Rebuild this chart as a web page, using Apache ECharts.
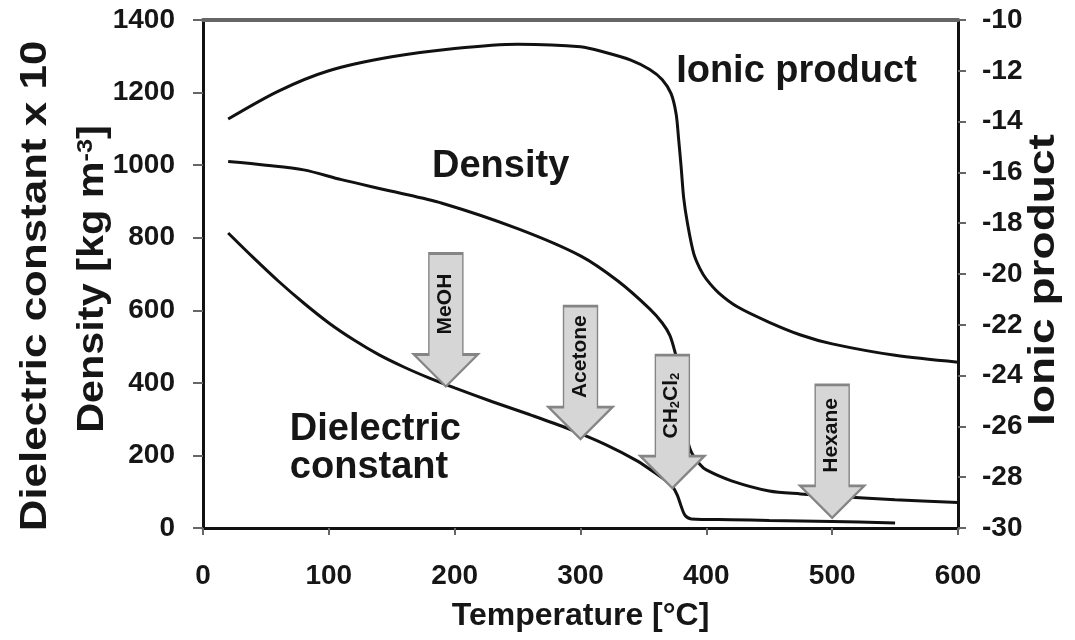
<!DOCTYPE html>
<html>
<head>
<meta charset="utf-8">
<script src="https://cdn.jsdelivr.net/npm/echarts@6/dist/echarts.min.js"></script>
<style>
  html, body { margin: 0; padding: 0; background: #fff; }
  #main { width: 1075px; height: 640px; }
</style>
</head>
<body>
<div id="main"></div>
<script>
var myChart = echarts.init(document.getElementById('main'));

// ionic product (right axis, log units)
const ionicT = [20, 60, 100, 150, 200, 250, 300, 320, 340, 355, 365, 372, 376, 378, 380, 382, 385, 390, 395, 400, 410, 425, 450, 475, 500, 550, 600];
const ionicV = [-13.9, -12.8, -12.0, -11.45, -11.12, -10.95, -11.05, -11.28, -11.58, -11.95, -12.35, -12.9, -13.7, -14.7, -15.8, -17.0, -18.0, -19.2, -19.8, -20.2, -20.75, -21.3, -21.9, -22.4, -22.75, -23.2, -23.47];

// density [kg m-3]
const densT = [20, 50, 80, 110, 150, 190, 250, 300, 330, 355, 365, 371, 375, 378, 381, 384, 388, 395, 400, 420, 450, 475, 500, 550, 600];
const densV = [1010, 1000, 987, 960, 928, 895, 825, 750, 680, 604, 565, 531, 486, 440, 340, 260, 210, 175, 160, 130, 102, 94, 88, 78, 70];

// dielectric constant x 10
const dielT = [20, 40, 60, 80, 100, 120, 140, 160, 180, 200, 230, 260, 290, 320, 345, 360, 368, 373, 377, 380, 383, 388, 420, 450, 500, 550];
const dielV = [813, 745, 680, 620, 565, 518, 477, 443, 413, 386, 348, 312, 274, 230, 185, 150, 130, 115, 90, 60, 35, 25, 23, 21, 18, 14];

// solvent arrows: temperature and tip value (left axis)
const solventNames = ['MeOH', 'Acetone', 'CH{sub|2}Cl{sub|2}', 'Hexane'];
const solventT = [193, 300, 373, 500];
const solventTip = [390, 245, 110, 28];

// curve captions: text, temperature, left-axis value
const captionText = ['Ionic product', 'Density', 'Dielectric\nconstant'];
const captionT = [376, 182, 69];
const captionV = [1257, 995, 218];

// axis titles drawn rotated
const leftTitles = ['Dielectric constant x 10', 'Density [kg m{sup|-3}]'];
const rightTitle = 'Ionic product';

const zip = (xs, ys) => xs.map((x, i) => [x, ys[i]]);

const FONT = 'Liberation Sans';
const INK = '#161616';
const arrowPath = 'path://M15,0 L49,0 L49,101 L64,101 L32,133 L0,101 L15,101 Z';

let option = {
    animation: false,
    grid: {left: 203, right: 117, top: 20, bottom: 112},
    xAxis: [
        {
            type: 'value', min: 0, max: 600, interval: 100, position: 'bottom',
            name: 'Temperature [°C]', nameLocation: 'middle', nameGap: 72,
            nameTextStyle: {fontFamily: FONT, fontSize: 32, fontWeight: 'bold', color: INK},
            axisLine: {onZero: false, lineStyle: {color: '#111', width: 3}},
            axisTick: {length: 7, lineStyle: {color: '#666', width: 2}},
            axisLabel: {margin: 34, fontFamily: FONT, fontSize: 28, fontWeight: 'bold', color: INK},
            splitLine: {show: false}
        },
        {
            type: 'value', min: 0, max: 600, position: 'top',
            axisLine: {show: true, onZero: false, lineStyle: {color: '#666', width: 4}},
            axisTick: {show: false}, axisLabel: {show: false}, splitLine: {show: false}
        }
    ],
    yAxis: [
        {
            type: 'value', min: 0, max: 1400, interval: 200, position: 'left',
            axisLine: {show: true, onZero: false, lineStyle: {color: '#111', width: 3}},
            axisTick: {show: true, length: 10, lineStyle: {color: '#666', width: 2}},
            axisLabel: {margin: 28, fontFamily: FONT, fontSize: 28, fontWeight: 'bold', color: INK, formatter: v => String(v)},
            splitLine: {show: false}
        },
        {
            type: 'value', min: -30, max: -10, interval: 2, position: 'right',
            axisLine: {show: true, onZero: false, lineStyle: {color: '#111', width: 3}},
            axisTick: {show: true, length: 8, lineStyle: {color: '#666', width: 2}},
            axisLabel: {margin: 24, fontFamily: FONT, fontSize: 28, fontWeight: 'bold', color: INK, formatter: v => String(v)},
            splitLine: {show: false}
        }
    ],
    series: [
        {
            name: 'Ionic product', type: 'line', xAxisIndex: 0, yAxisIndex: 1,
            data: zip(ionicT, ionicV), showSymbol: false, smooth: 0.3,
            lineStyle: {color: '#111', width: 3}
        },
        {
            name: 'Density', type: 'line', xAxisIndex: 0, yAxisIndex: 0,
            data: zip(densT, densV), showSymbol: false, smooth: 0.3,
            lineStyle: {color: '#111', width: 3}
        },
        {
            name: 'Dielectric constant', type: 'line', xAxisIndex: 0, yAxisIndex: 0,
            data: zip(dielT, dielV), showSymbol: false, smooth: 0.3,
            lineStyle: {color: '#111', width: 3},
            markPoint: {
                symbol: arrowPath,
                symbolSize: [64, 133],
                symbolOffset: [0, '-50%'],
                itemStyle: {color: '#d6d6d6', borderColor: '#858585', borderWidth: 2},
                label: {
                    show: true, position: [32, 52], align: 'center', verticalAlign: 'middle', rotate: 90,
                    fontFamily: FONT, fontSize: 21, fontWeight: 'bold', color: '#111',
                    formatter: p => p.name,
                    rich: {sub: {fontFamily: FONT, fontSize: 13, fontWeight: 'bold', color: '#111', verticalAlign: 'bottom', padding: [8, 0, 0, 0]}}
                },
                data: solventNames.map((n, i) => ({name: n, coord: [solventT[i], solventTip[i]]}))
            }
        }
    ]
};

myChart.setOption(option);

// captions and rotated axis titles, placed from the grid's own scales
const px = (t, v) => myChart.convertToPixel({xAxisIndex: 0, yAxisIndex: 0}, [t, v]);
const leftEdge = px(0, 0)[0];
const rightEdge = px(600, 0)[0];
const midY = (px(0, 0)[1] + px(0, 1400)[1]) / 2;

const graphics = captionText.map((t, i) => {
    const p = px(captionT[i], captionV[i]);
    return {
        type: 'text', x: p[0], y: p[1],
        style: {
            text: t, fill: INK, font: 'bold 38px "Liberation Sans"',
            textAlign: 'left', textVerticalAlign: 'middle', lineHeight: 38
        }
    };
});

const titleStyle = {
    fill: INK, font: 'bold 36px "Liberation Sans"', textAlign: 'center', textVerticalAlign: 'middle',
    rich: {sup: {fill: INK, font: 'bold 22px "Liberation Sans"', verticalAlign: 'top', padding: [0, 0, 14, 0]}}
};
graphics.push(
    {type: 'text', x: leftEdge - 167, y: midY + 12, rotation: Math.PI / 2, scaleX: 1.22,
        style: Object.assign({}, titleStyle, {text: leftTitles[0]})},
    {type: 'text', x: leftEdge - 110, y: midY + 5, rotation: Math.PI / 2, scaleX: 1.15,
        style: Object.assign({}, titleStyle, {text: leftTitles[1]})},
    {type: 'text', x: rightEdge + 86, y: midY + 6, rotation: Math.PI / 2, scaleX: 1.28,
        style: Object.assign({}, titleStyle, {text: rightTitle})}
);

myChart.setOption({graphic: graphics});
</script>
</body>
</html>
